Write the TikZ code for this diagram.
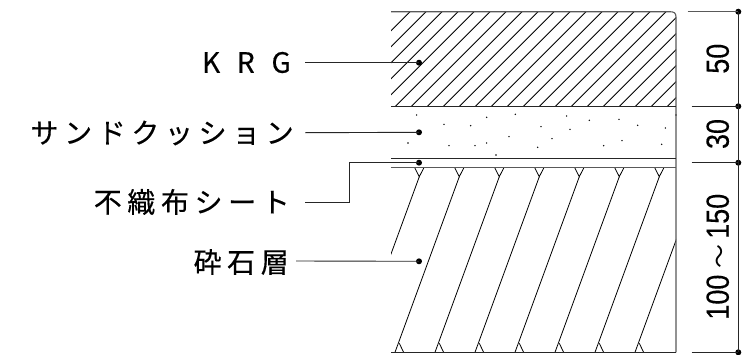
\documentclass[tikz,border=0pt]{standalone}
\usepackage{fontspec}
\setmainfont{Noto Sans CJK JP}
\newfontfamily\cjk{Noto Sans CJK JP}
\newfontfamily\dimfont[FakeStretch=0.84,FakeBold=0.25]{Liberation Sans}
\begin{document}
\begin{tikzpicture}[x=1pt,y=-1pt,
  line/.style={line width=0.9pt,line cap=butt,draw=black!85},
  heavy/.style={line width=1.1pt,draw=black!65},
  thin/.style={line width=0.8pt,draw=black},
  dotn/.style={circle,fill=black,inner sep=0pt,minimum size=6pt},
  lab/.style={anchor=east,inner sep=0pt,font=\fontsize{28}{28}\selectfont\addfontfeature{LetterSpace=20,FakeBold=0.4}},
  dimtxt/.style={rotate=90,inner sep=0pt,font=\dimfont\fontsize{32}{32}\selectfont}]
\useasboundingbox (0,0) rectangle (753,354);
\fill[white] (0,0) rectangle (753,354);
% KRG hatching
\begin{scope}
\clip (391,11.7) rectangle (676,106.3);
\foreach \k in {0,...,24}
  \draw[thin] ({410+16*\k-120},131.7) -- ({410+16*\k+20},-8.3);
\end{scope}
% sand dots
\foreach \x/\y in {170/345,252/373,332/377,380/352,466/343,543/380,620/348,688/361,777/358,833/376,916/384,948/345,630/388,447/410,576/416,786/422,144/429,267/437,345/437,380/429,533/442,731/437,905/433,408/465}
  \fill ({360+\x/3},{\y/3}) circle (0.8);
% gravel hatching
\begin{scope}
\clip (391,167.7) rectangle (676,352.3);
\foreach \k in {0,...,6} {
  \draw[thin] ({419.3+40*\k-4.6},167.7) -- ({419.3+40*\k},176.7) -- ({419.3+40*\k+4.6},167.7);
  \draw[thin] ({399.3+40*\k+4.3},352.3) -- ({399.3+40*\k},343.3);
}
\foreach \k in {-1,...,6}
  \draw[thin] ({459.3+40*\k},176.7) -- ({395+40*\k},352.3);
\end{scope}
% layer lines
\draw[heavy] (391,11.7) -- (670,11.7) .. controls (674,11.7) and (676,13) .. (676,17) -- (676,352.3);
\draw[line] (391,106.3) -- (676,106.3);
\draw[line] (391,158.3) -- (676,158.3);
\draw[heavy] (391,167.7) -- (676,167.7);
\draw[line] (391,352.3) -- (676,352.3);
% labels
\node[lab] (krg) at (291,62.5) {\addfontfeature{LetterSpace=60}KRG};
\node[lab] (sand) at (294,133) {サンドクッション};
\node[lab] (sheet) at (290,202) {不織布シート};
\node[lab] (rock) at (289,262) {砕石層};
% leaders
\node[dotn] (d1) at (419,62.7) {};
\node[dotn] (d2) at (419,132.3) {};
\node[dotn] (d3) at (419,162.7) {};
\node[dotn] (d4) at (419,261.3) {};
\coordinate (s1) at (305,62.7);
\coordinate (s2) at (305,132.7);
\coordinate (s3) at (305,202.3);
\coordinate (s4) at (296,261);
\draw[line] (s1) -- (d1.center);
\draw[line] (s2) -- (d2.center);
\draw[line] (s3) -- (349,202.3) -- (349,162.7) -- (d3.center);
\draw[line] (s4) -- (d4.center);
% dimension line
\node[dotn] (t0) at (738.3,11.7) {};
\node[dotn] (t1) at (738.3,106.3) {};
\node[dotn] (t2) at (738.3,162.7) {};
\node[dotn] (t3) at (738.3,352.3) {};
\draw[line] (t0.center) -- (t1.center) -- (t2.center) -- (t3.center);
\draw[heavy] (687.7,11.7) -- (t0.center);
\draw[line] (691.7,106.3) -- (t1.center);
\draw[line] (691.7,162.7) -- (t2.center);
\draw[line] (691.7,352.3) -- (t3.center);
\node[dimtxt] (n50) at (717.7,58.7) {50};
\node[dimtxt] (n30) at (717.7,134) {30};
\node[dimtxt] (n100) at (717.7,256.7) {100\kern6pt{\cjk\fontsize{24}{24}\selectfont〜}\kern6pt150};
\end{tikzpicture}
\end{document}
